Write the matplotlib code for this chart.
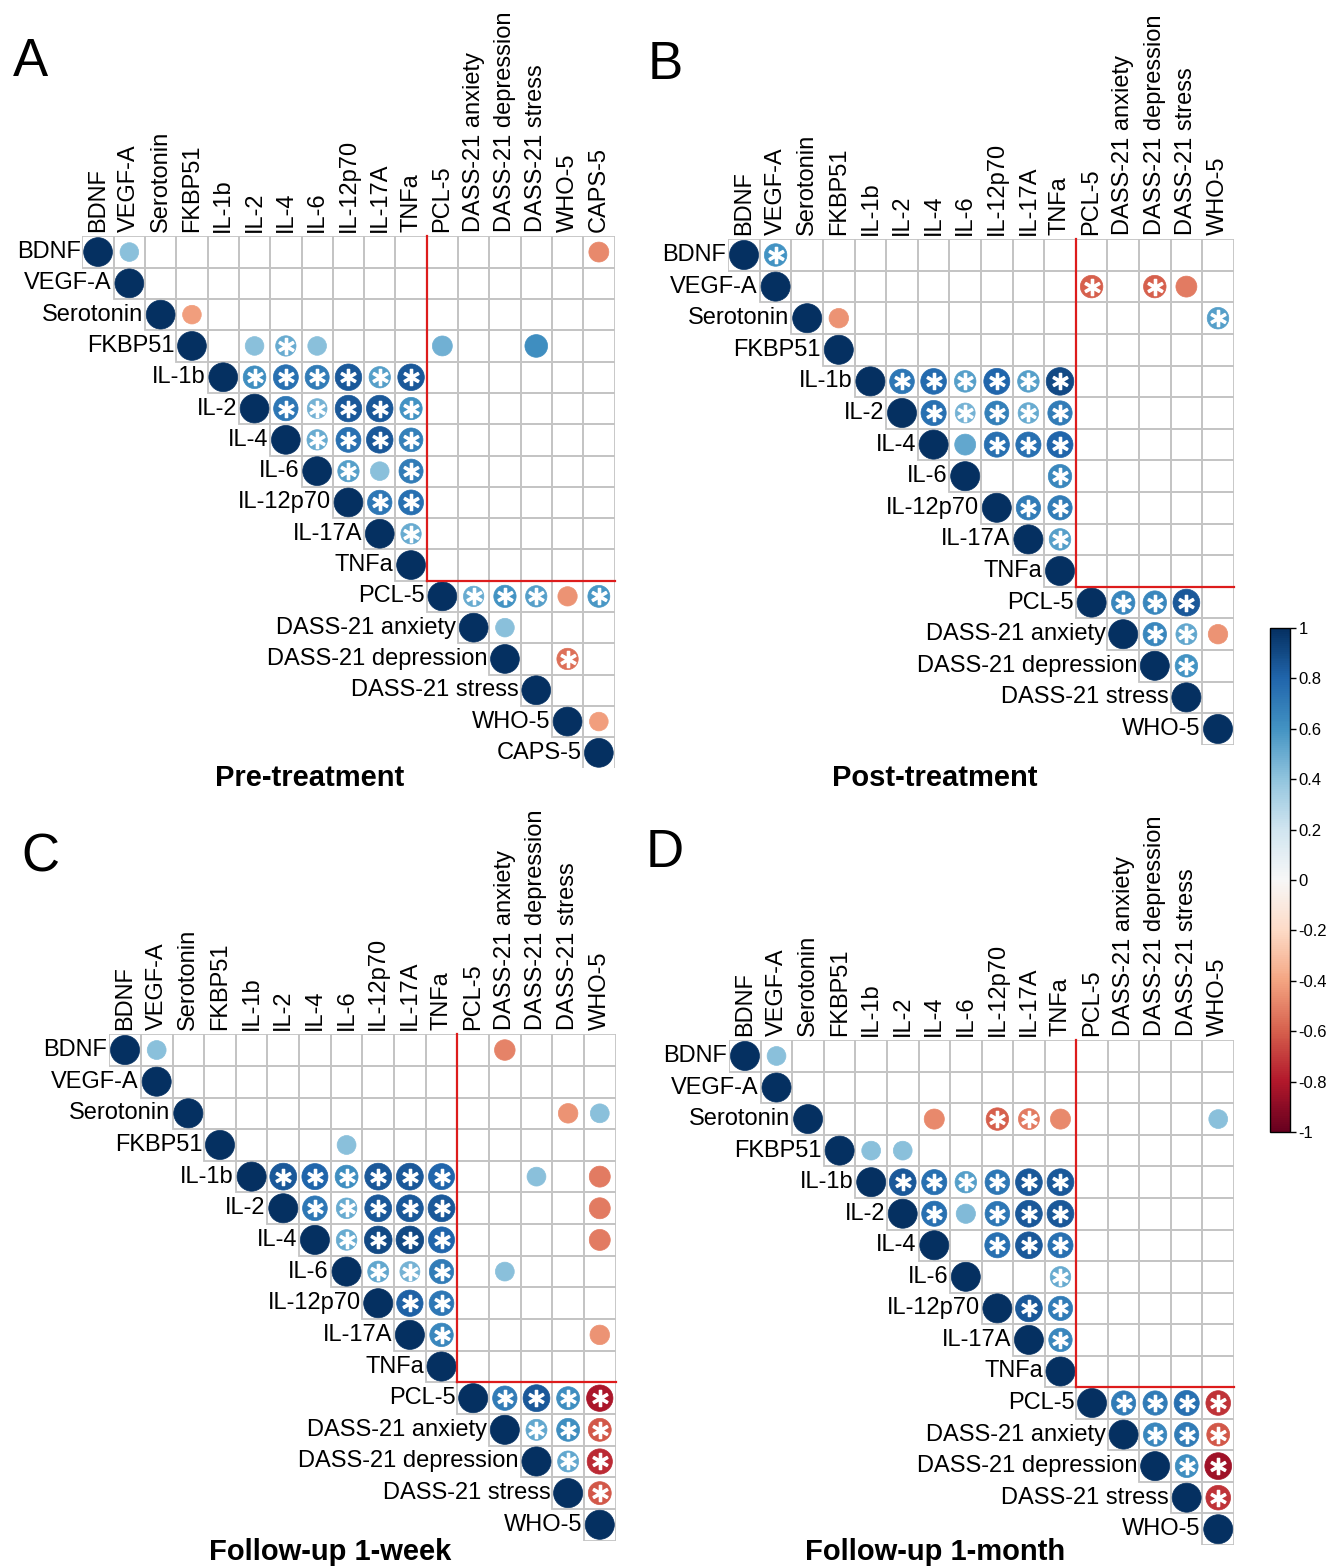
import numpy as np
import matplotlib
matplotlib.use("Agg")
import matplotlib.pyplot as plt
from matplotlib.patches import Circle, Rectangle
from matplotlib.colors import Normalize
from matplotlib.cm import ScalarMappable

plt.rcParams['font.family'] = ['Liberation Sans', 'DejaVu Sans']

# variable names
vars_pre = ["BDNF", "VEGF-A", "Serotonin", "FKBP51", "IL-1b", "IL-2", "IL-4", "IL-6",
            "IL-12p70", "IL-17A", "TNFa", "PCL-5", "DASS-21 anxiety", "DASS-21 depression",
            "DASS-21 stress", "WHO-5", "CAPS-5"]
vars_post = vars_pre[:16]
vars_week = vars_pre[:16]
vars_month = vars_pre[:16]

# (row, column, r, significant) - off-diagonal cells only
pre_cells = [
    ("BDNF", "VEGF-A", 0.42, 0), ("BDNF", "CAPS-5", -0.48, 0),
    ("Serotonin", "FKBP51", -0.42, 0),
    ("FKBP51", "IL-2", 0.42, 0), ("FKBP51", "IL-4", 0.50, 1), ("FKBP51", "IL-6", 0.42, 0),
    ("FKBP51", "PCL-5", 0.48, 0), ("FKBP51", "DASS-21 stress", 0.62, 0),
    ("IL-1b", "IL-2", 0.62, 1), ("IL-1b", "IL-4", 0.75, 1), ("IL-1b", "IL-6", 0.70, 1),
    ("IL-1b", "IL-12p70", 0.85, 1), ("IL-1b", "IL-17A", 0.55, 1), ("IL-1b", "TNFa", 0.85, 1),
    ("IL-2", "IL-4", 0.72, 1), ("IL-2", "IL-6", 0.47, 1), ("IL-2", "IL-12p70", 0.85, 1),
    ("IL-2", "IL-17A", 0.85, 1), ("IL-2", "TNFa", 0.60, 1),
    ("IL-4", "IL-6", 0.50, 1), ("IL-4", "IL-12p70", 0.75, 1), ("IL-4", "IL-17A", 0.85, 1),
    ("IL-4", "TNFa", 0.68, 1),
    ("IL-6", "IL-12p70", 0.55, 1), ("IL-6", "IL-17A", 0.42, 0), ("IL-6", "TNFa", 0.70, 1),
    ("IL-12p70", "IL-17A", 0.72, 1), ("IL-12p70", "TNFa", 0.75, 1),
    ("IL-17A", "TNFa", 0.50, 1),
    ("PCL-5", "DASS-21 anxiety", 0.50, 1), ("PCL-5", "DASS-21 depression", 0.60, 1),
    ("PCL-5", "DASS-21 stress", 0.55, 1), ("PCL-5", "WHO-5", -0.45, 0), ("PCL-5", "CAPS-5", 0.58, 1),
    ("DASS-21 anxiety", "DASS-21 depression", 0.42, 0),
    ("DASS-21 depression", "WHO-5", -0.55, 1),
    ("WHO-5", "CAPS-5", -0.42, 0),
]

post_cells = [
    ("BDNF", "VEGF-A", 0.60, 1),
    ("VEGF-A", "PCL-5", -0.60, 1), ("VEGF-A", "DASS-21 depression", -0.60, 1),
    ("VEGF-A", "DASS-21 stress", -0.52, 0),
    ("Serotonin", "FKBP51", -0.45, 0), ("Serotonin", "WHO-5", 0.55, 1),
    ("IL-1b", "IL-2", 0.72, 1), ("IL-1b", "IL-4", 0.78, 1), ("IL-1b", "IL-6", 0.55, 1),
    ("IL-1b", "IL-12p70", 0.80, 1), ("IL-1b", "IL-17A", 0.55, 1), ("IL-1b", "TNFa", 0.90, 1),
    ("IL-2", "IL-4", 0.75, 1), ("IL-2", "IL-6", 0.47, 1), ("IL-2", "IL-12p70", 0.68, 1),
    ("IL-2", "IL-17A", 0.50, 1), ("IL-2", "TNFa", 0.70, 1),
    ("IL-4", "IL-6", 0.52, 0), ("IL-4", "IL-12p70", 0.75, 1), ("IL-4", "IL-17A", 0.75, 1),
    ("IL-4", "TNFa", 0.80, 1),
    ("IL-6", "TNFa", 0.65, 1),
    ("IL-12p70", "IL-17A", 0.70, 1), ("IL-12p70", "TNFa", 0.70, 1),
    ("IL-17A", "TNFa", 0.55, 1),
    ("PCL-5", "DASS-21 anxiety", 0.65, 1), ("PCL-5", "DASS-21 depression", 0.65, 1),
    ("PCL-5", "DASS-21 stress", 0.85, 1),
    ("DASS-21 anxiety", "DASS-21 depression", 0.65, 1), ("DASS-21 anxiety", "DASS-21 stress", 0.52, 1),
    ("DASS-21 anxiety", "WHO-5", -0.45, 0),
    ("DASS-21 depression", "DASS-21 stress", 0.60, 1),
]

week_cells = [
    ("BDNF", "VEGF-A", 0.42, 0), ("BDNF", "DASS-21 anxiety", -0.50, 0),
    ("Serotonin", "DASS-21 stress", -0.45, 0), ("Serotonin", "WHO-5", 0.42, 0),
    ("FKBP51", "IL-6", 0.42, 0),
    ("IL-1b", "IL-2", 0.85, 1), ("IL-1b", "IL-4", 0.80, 1), ("IL-1b", "IL-6", 0.62, 1),
    ("IL-1b", "IL-12p70", 0.85, 1), ("IL-1b", "IL-17A", 0.85, 1), ("IL-1b", "TNFa", 0.80, 1),
    ("IL-1b", "DASS-21 depression", 0.42, 0), ("IL-1b", "WHO-5", -0.52, 0),
    ("IL-2", "IL-4", 0.72, 1), ("IL-2", "IL-6", 0.50, 1), ("IL-2", "IL-12p70", 0.85, 1),
    ("IL-2", "IL-17A", 0.85, 1), ("IL-2", "TNFa", 0.85, 1), ("IL-2", "WHO-5", -0.52, 0),
    ("IL-4", "IL-6", 0.50, 1), ("IL-4", "IL-12p70", 0.90, 1), ("IL-4", "IL-17A", 0.90, 1),
    ("IL-4", "TNFa", 0.80, 1), ("IL-4", "WHO-5", -0.52, 0),
    ("IL-6", "IL-12p70", 0.52, 1), ("IL-6", "IL-17A", 0.47, 1), ("IL-6", "TNFa", 0.70, 1),
    ("IL-6", "DASS-21 anxiety", 0.42, 0),
    ("IL-12p70", "IL-17A", 0.82, 1), ("IL-12p70", "TNFa", 0.72, 1),
    ("IL-17A", "TNFa", 0.65, 1), ("IL-17A", "WHO-5", -0.45, 0),
    ("PCL-5", "DASS-21 anxiety", 0.70, 1), ("PCL-5", "DASS-21 depression", 0.85, 1),
    ("PCL-5", "DASS-21 stress", 0.62, 1), ("PCL-5", "WHO-5", -0.82, 1),
    ("DASS-21 anxiety", "DASS-21 depression", 0.52, 1), ("DASS-21 anxiety", "DASS-21 stress", 0.62, 1),
    ("DASS-21 anxiety", "WHO-5", -0.62, 1),
    ("DASS-21 depression", "DASS-21 stress", 0.52, 1), ("DASS-21 depression", "WHO-5", -0.75, 1),
    ("DASS-21 stress", "WHO-5", -0.62, 1),
]

month_cells = [
    ("BDNF", "VEGF-A", 0.42, 0),
    ("Serotonin", "IL-4", -0.48, 0), ("Serotonin", "IL-12p70", -0.60, 1),
    ("Serotonin", "IL-17A", -0.52, 1), ("Serotonin", "TNFa", -0.48, 0), ("Serotonin", "WHO-5", 0.42, 0),
    ("FKBP51", "IL-1b", 0.42, 0), ("FKBP51", "IL-2", 0.42, 0),
    ("IL-1b", "IL-2", 0.85, 1), ("IL-1b", "IL-4", 0.75, 1), ("IL-1b", "IL-6", 0.55, 1),
    ("IL-1b", "IL-12p70", 0.72, 1), ("IL-1b", "IL-17A", 0.85, 1), ("IL-1b", "TNFa", 0.85, 1),
    ("IL-2", "IL-4", 0.75, 1), ("IL-2", "IL-6", 0.44, 0), ("IL-2", "IL-12p70", 0.72, 1),
    ("IL-2", "IL-17A", 0.85, 1), ("IL-2", "TNFa", 0.85, 1),
    ("IL-4", "IL-12p70", 0.75, 1), ("IL-4", "IL-17A", 0.85, 1), ("IL-4", "TNFa", 0.75, 1),
    ("IL-6", "TNFa", 0.50, 1),
    ("IL-12p70", "IL-17A", 0.85, 1), ("IL-12p70", "TNFa", 0.70, 1),
    ("IL-17A", "TNFa", 0.65, 1),
    ("PCL-5", "DASS-21 anxiety", 0.70, 1), ("PCL-5", "DASS-21 depression", 0.70, 1),
    ("PCL-5", "DASS-21 stress", 0.75, 1), ("PCL-5", "WHO-5", -0.72, 1),
    ("DASS-21 anxiety", "DASS-21 depression", 0.65, 1), ("DASS-21 anxiety", "DASS-21 stress", 0.70, 1),
    ("DASS-21 anxiety", "WHO-5", -0.62, 1),
    ("DASS-21 depression", "DASS-21 stress", 0.62, 1), ("DASS-21 depression", "WHO-5", -0.85, 1),
    ("DASS-21 stress", "WHO-5", -0.72, 1),
]

cbar_ticks = [1, 0.8, 0.6, 0.4, 0.2, 0, -0.2, -0.4, -0.6, -0.8, -1]
cbar_labels = ["1", "0.8", "0.6", "0.4", "0.2", "0", "-0.2", "-0.4", "-0.6", "-0.8", "-1"]

W, H = 1331, 1566
fig = plt.figure(figsize=(W / 100, H / 100), dpi=100)
cmap = plt.get_cmap('RdBu')
norm = Normalize(-1, 1)


def px_rect(left, top, w, h):
    return [left / W, 1 - (top + h) / H, w / W, h / H]


def draw_panel(names, cells, left, top, cell):
    n = len(names)
    ax = fig.add_axes(px_rect(left, top, n * cell, n * cell))
    ax.set_xlim(0.5, n + 0.5)
    ax.set_ylim(n + 0.5, 0.5)
    ax.axis('off')
    idx = {nm: k + 1 for k, nm in enumerate(names)}

    # grid of upper triangle
    for i in range(1, n + 1):
        for j in range(i, n + 1):
            ax.add_patch(Rectangle((j - 0.5, i - 0.5), 1, 1, fill=False,
                                   ec='#c4c4c4', lw=1.3, zorder=1))

    entries = [(nm, nm, 1.0, 0) for nm in names] + cells
    for rn, cn, r, sig in entries:
        i, j = idx[rn], idx[cn]
        col = cmap(norm(r))
        ax.add_patch(Circle((j, i), 0.46 * np.sqrt(abs(r)), fc=col, ec=col, lw=0.5, zorder=2))
        if sig:
            ax.plot(j, i, marker=r'$\ast$', color='white', markersize=11.5,
                    markeredgewidth=1.1, zorder=3)

    # red separator between biomarkers and questionnaires
    ax.plot([11.5, 11.5], [0.5, 11.5], color='#dd1c1c', lw=1.6, zorder=4, clip_on=False)
    ax.plot([11.5, n + 0.5], [11.5, 11.5], color='#dd1c1c', lw=1.6, zorder=4, clip_on=False)

    for k, nm in enumerate(names, start=1):
        ax.text(k, 0.36, nm, rotation=90, ha='center', va='bottom', fontsize=17)
        ax.text(k - 0.56, k, nm, ha='right', va='center', fontsize=17)
    return ax


draw_panel(vars_pre, pre_cells, 82.4, 236.4, 31.3)
draw_panel(vars_post, post_cells, 728.2, 239.2, 31.6)
draw_panel(vars_week, week_cells, 109.2, 1034.2, 31.65)
draw_panel(vars_month, month_cells, 729.2, 1040.2, 31.55)

# panel letters and titles
for letter, x, y in [("A", 30, 62), ("B", 665, 65), ("C", 40, 858), ("D", 665, 853)]:
    fig.text(x / W, 1 - y / H, letter, fontsize=38, ha='center', va='center')
for title, x, y in [("Pre-treatment", 310, 778), ("Post-treatment", 935, 778),
                    ("Follow-up 1-week", 330, 1552), ("Follow-up 1-month", 935, 1552)]:
    fig.text(x / W, 1 - y / H, title, fontsize=21, fontweight='bold', ha='center', va='center')

# colorbar
cax = fig.add_axes(px_rect(1270, 628, 20, 504))
sm = ScalarMappable(norm=norm, cmap=cmap)
cb = fig.colorbar(sm, cax=cax)
cb.set_ticks(cbar_ticks)
cb.set_ticklabels(cbar_labels)
cb.ax.tick_params(labelsize=12, length=4, width=1, pad=2)
cb.outline.set_linewidth(1)

fig.savefig("out.png", dpi=100)
